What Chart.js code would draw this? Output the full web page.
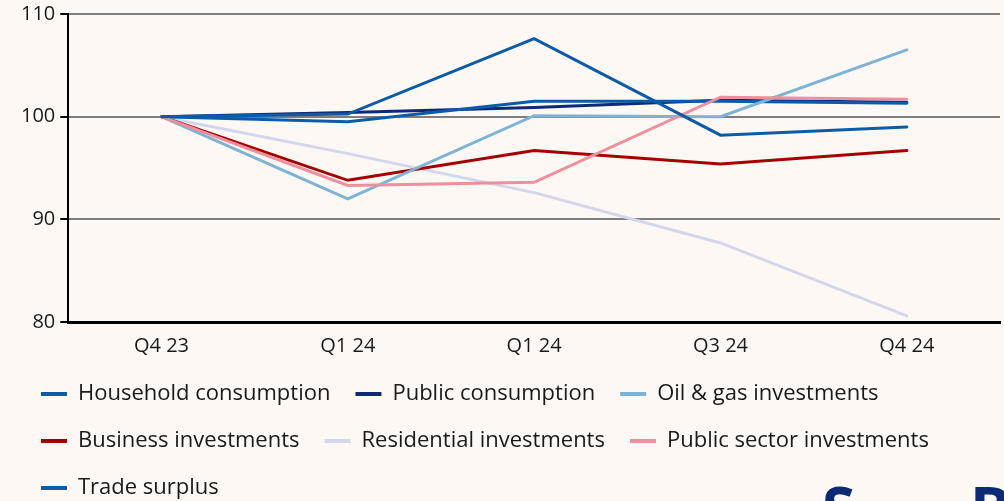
<!DOCTYPE html>
<html>
<head>
<meta charset="utf-8">
<script src="https://cdn.jsdelivr.net/npm/chart.js@4"></script>
<style>
  html, body { margin: 0; padding: 0; background: #fdf8f4; overflow: hidden; }
  #wrap { position: relative; width: 1004px; height: 501px; overflow: hidden; }
  #box { position: absolute; left: 0; top: 0; width: 1004px; height: 509px; }
  .big { position: absolute; top: 478px; font-family: "Open Sans", sans-serif; font-weight: 700; font-size: 60px; color: #0d2a78; line-height: 1; }
</style>
</head>
<body>
<div id="wrap">
  <div id="box"><canvas id="myChart"></canvas></div>
  <div class="big" style="left:822px">S</div>
  <div class="big" style="left:970px">B</div>
</div>
<script>
const labels = ["Q4 23", "Q1 24", "Q1 24", "Q3 24", "Q4 24"];
const household = [100, 99.5, 101.5, 101.5, 101.3];
const publicConsumption = [100, 100.4, 100.9, 101.6, 101.4];
const oilGas = [100, 92.0, 100.1, 100.0, 106.5];
const business = [100, 93.8, 96.7, 95.4, 96.7];
const residential = [100, 96.4, 92.6, 87.7, 80.6];
const publicSector = [100, 93.3, 93.6, 101.9, 101.7];
const tradeSurplus = [100, 100.25, 107.6, 98.2, 99.0];
const yTicks = [80, 90, 100, 110];

const line = (label, data, color, order) => ({
	label: label,
	data: data,
	borderColor: color,
	backgroundColor: color,
	borderWidth: 3,
	borderCapStyle: "round",
	pointRadius: 0,
	tension: 0,
	order: order,
});

const data = {
	labels: labels,
	datasets: [
		line("Household consumption", household, "#0a5ca8", 3),
		line("Public consumption", publicConsumption, "#0d2a78", 4),
		line("Oil & gas investments", oilGas, "#7db4d6", 2),
		line("Business investments", business, "#a50000", 5),
		line("Residential investments", residential, "#d4d6ec", 6),
		line("Public sector investments", publicSector, "#ef8e9c", 1),
		line("Trade surplus", tradeSurplus, "#0a5ca8", 0),
	],
};

const config = {
	type: "line",
	data,
	options: {
		responsive: true,
		maintainAspectRatio: false,
		animation: false,
		layout: { padding: { left: 16, right: 4, top: 14, bottom: 0 } },
		plugins: {
			tooltip: { enabled: false },
			legend: {
				position: "bottom",
				align: "start",
				labels: {
					boxWidth: 26,
					boxHeight: 4,
					padding: 25,
					color: "#1a1a1a",
					font: { family: "Open Sans", size: 22 },
					sort: (a, b) => a.datasetIndex - b.datasetIndex,
					generateLabels: (chart) =>
						Chart.defaults.plugins.legend.labels.generateLabels(chart).map((item) => {
							item.lineWidth = 0;
							item.strokeStyle = "rgba(0,0,0,0)";
							return item;
						}),
				},
			},
		},
		scales: {
			x: {
				offset: true,
				grid: { display: false, drawTicks: false },
				border: { display: true, color: "#000", width: 3 },
				ticks: { color: "#1a1a1a", padding: 12, font: { family: "Open Sans", size: 20 } },
				afterFit: (axis) => {
					axis.height -= 12;
				},
			},
			y: {
				min: yTicks[0],
				max: yTicks[yTicks.length - 1],
				afterBuildTicks: (axis) => {
					axis.ticks = yTicks.map((v) => ({ value: v }));
				},
				afterFit: (axis) => {
					axis.paddingTop = 0;
				},
				grid: { color: "#7f7f7f", lineWidth: 2, tickColor: "#000", tickLength: 8 },
				border: { display: true, color: "#000", width: 2 },
				ticks: { color: "#1a1a1a", padding: 5, font: { family: "Open Sans", size: 20 } },
			},
		},
	},
};

const myChart = new Chart(document.getElementById("myChart"), config);
</script>
</body>
</html>
